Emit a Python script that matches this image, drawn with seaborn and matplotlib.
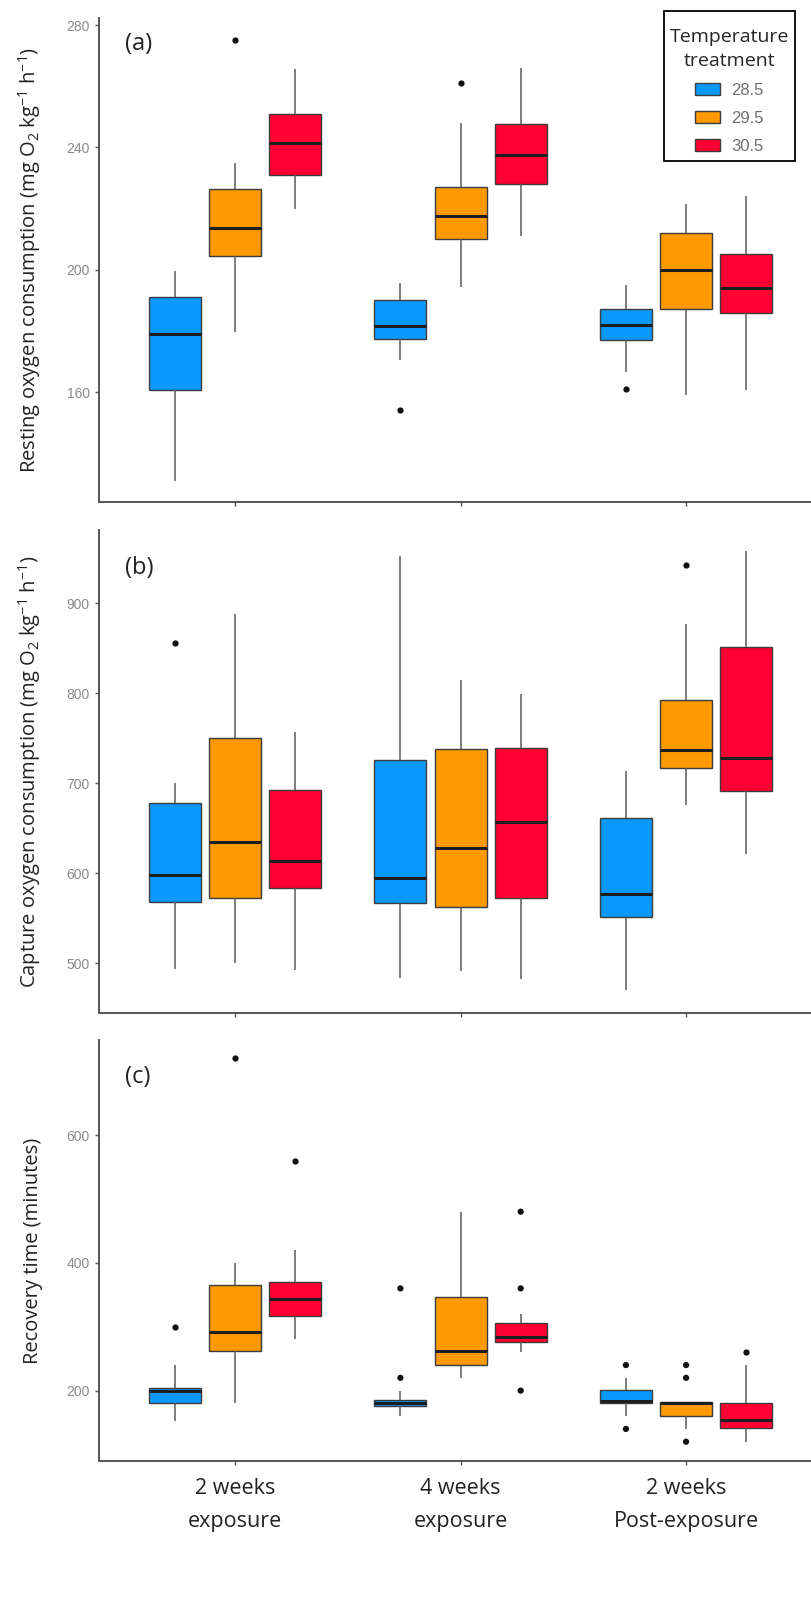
import matplotlib
matplotlib.use("Agg")
import matplotlib.pyplot as plt
from matplotlib.patches import Rectangle
import seaborn as sns
import pandas as pd

periods = ["2 weeks\nexposure", "4 weeks\nexposure", "2 weeks\nPost-exposure"]
temps = ["28.5", "29.5", "30.5"]
colors = ["#0a99fa", "#ff9900", "#ff0033"]

# five-number summaries (min, q1, median, q3, max), rows ordered period x temp
resting_stats = [
    [131, 160.5, 179, 191, 199.5], [179.5, 204.5, 213.5, 226.5, 235], [220, 231, 241.5, 251, 265.5],
    [170.5, 177.5, 181.5, 190, 195.5], [194.5, 210, 217.5, 227, 248], [211, 228, 237.5, 247.5, 266],
    [166.5, 177, 182, 187, 195], [159, 187, 200, 212, 221.5], [160.5, 186, 194, 205, 224],
]
resting_out_period = [0, 1, 1, 2]
resting_out_temp = ["29.5", "28.5", "29.5", "28.5"]
resting_out_value = [275, 154, 261, 161]

capture_stats = [
    [494, 568.5, 598, 678, 700], [500, 573, 635, 750, 888], [493, 584, 614, 692, 757],
    [484, 567, 595, 726, 952], [491, 562, 628, 738, 815], [483, 573, 657, 739, 799],
    [470, 551, 577, 661, 714], [676, 717, 737, 793, 877], [621, 691, 728, 851, 958],
]
capture_out_period = [0, 2]
capture_out_temp = ["28.5", "29.5"]
capture_out_value = [856, 942]

recovery_stats = [
    [153, 181, 200, 204, 240], [180, 262, 292, 365, 400], [280, 316, 343, 370, 420],
    [160, 176, 181, 186, 200], [220, 240, 262, 347, 480], [260, 276, 284, 306, 320],
    [160, 181, 183, 201, 220], [140, 160, 180, 182, 182], [120, 142, 154, 180, 240],
]
recovery_out_period = [0, 0, 0, 1, 1, 1, 1, 1, 2, 2, 2, 2, 2, 2]
recovery_out_temp = ["28.5", "29.5", "30.5", "28.5", "28.5", "30.5", "30.5", "30.5",
                     "28.5", "28.5", "29.5", "29.5", "29.5", "30.5"]
recovery_out_value = [300, 720, 560, 360, 220, 480, 360, 200, 240, 140, 240, 220, 120, 260]

sns.set_style("white")
plt.rcParams["font.family"] = ["Open Sans", "DejaVu Sans"]
plt.rcParams["mathtext.fontset"] = "custom"
plt.rcParams["mathtext.rm"] = "Open Sans"
plt.rcParams["mathtext.it"] = "Open Sans:italic"


def box_frame(stats):
    rows = []
    for i, s in enumerate(stats):
        for v in s:
            rows.append((periods[i // 3], temps[i % 3], v))
    return pd.DataFrame(rows, columns=["period", "temp", "value"])


def panel(ax, stats, out_p, out_t, out_v, ylabel, tag, tag_y, ylim, yticks, show_x, legend=False):
    sns.boxplot(data=box_frame(stats), x="period", y="value", hue="temp",
                order=periods, hue_order=temps, palette=colors, saturation=1,
                width=0.8, gap=0.135, whis=(0, 100), showcaps=False, showfliers=False,
                linecolor="#3c3c3c", linewidth=1.0,
                medianprops=dict(color="#1e1e1e", linewidth=2.2),
                whiskerprops=dict(color="#5a5a5a", linewidth=1.1),
                legend=legend, ax=ax)
    outliers = pd.DataFrame({"period": [periods[i] for i in out_p],
                             "temp": out_t, "value": out_v})
    sns.stripplot(data=outliers, x="period", y="value", hue="temp",
                  order=periods, hue_order=temps, palette=["#111111"] * 3,
                  dodge=True, jitter=False, size=4.5, linewidth=0,
                  legend=False, ax=ax)
    ax.set_xlim(-0.603, 2.554)
    ax.set_ylim(*ylim)
    ax.set_yticks(yticks)
    ax.set_xlabel("")
    ax.set_ylabel(ylabel, fontsize=14.5, color="#222222")
    ax.yaxis.set_label_coords(-0.079, 0.5)
    for side in ["top", "right"]:
        ax.spines[side].set_visible(False)
    for side in ["left", "bottom"]:
        ax.spines[side].set_color("#555555")
        ax.spines[side].set_linewidth(1.4)
    ax.tick_params(axis="both", direction="out", length=3, width=1, color="#555555",
                   bottom=True, left=True)
    ax.tick_params(axis="y", labelsize=10, labelcolor="#8a8a8a", pad=3.5)
    for lab in ax.get_yticklabels():
        lab.set_fontfamily("Liberation Sans")
    if show_x:
        ax.tick_params(axis="x", labelsize=15.5, labelcolor="#222222", pad=9)
        for lab in ax.get_xticklabels():
            lab.set_linespacing(1.75)
    else:
        ax.tick_params(axis="x", labelbottom=False)
    ax.text(0.0365, tag_y, tag, transform=ax.transAxes, fontsize=17,
            ha="left", va="center", color="#222222")


fig = plt.figure(figsize=(8.11, 16.02), dpi=100)
ax_a = fig.add_axes([0.1221, 0.6866, 0.8779, 0.3021])
ax_b = fig.add_axes([0.1221, 0.3677, 0.8779, 0.3015])
ax_c = fig.add_axes([0.1221, 0.0880, 0.8779, 0.2628])

panel(ax_a, resting_stats, resting_out_period, resting_out_temp, resting_out_value,
      "Resting oxygen consumption (mg O$_2$ kg$^{-1}$ h$^{-1}$)", "(a)", 0.946,
      (124.0, 282.3), [160, 200, 240, 280], False, legend=True)
panel(ax_b, capture_stats, capture_out_period, capture_out_temp, capture_out_value,
      "Capture oxygen consumption (mg O$_2$ kg$^{-1}$ h$^{-1}$)", "(b)", 0.921,
      (444.8, 981.5), [500, 600, 700, 800, 900], False)
panel(ax_c, recovery_stats, recovery_out_period, recovery_out_temp, recovery_out_value,
      "Recovery time (minutes)", "(c)", 0.912,
      (89.8, 748.7), [200, 400, 600], True)

# legend without its own frame; a box with extra room above the title is drawn round it
handles, labels = ax_a.get_legend_handles_labels()
ax_a.get_legend().remove()
leg = ax_a.legend(handles, labels, title="Temperature\ntreatment", loc="upper right",
                  bbox_to_anchor=(795 / 811, 1 - 22 / 1602), bbox_transform=fig.transFigure,
                  borderaxespad=0, frameon=False, fontsize=12, title_fontsize=14,
                  handlelength=1.5, handleheight=0.7, labelspacing=0.78,
                  borderpad=0.35, handletextpad=0.7)
leg.get_title().set_multialignment("center")
leg.get_title().set_linespacing(1.45)
for t in leg.get_texts():
    t.set_color("#707070")
    t.set_fontfamily("Liberation Sans")

fig.canvas.draw()
bb = leg.get_window_extent()
fig.add_artist(Rectangle((bb.x0, bb.y0 - 1), bb.width, bb.height + 1 + 11,
                         transform=None, fill=False, edgecolor="black", linewidth=1.3))

fig.savefig("out.png", dpi=100, facecolor="white")
